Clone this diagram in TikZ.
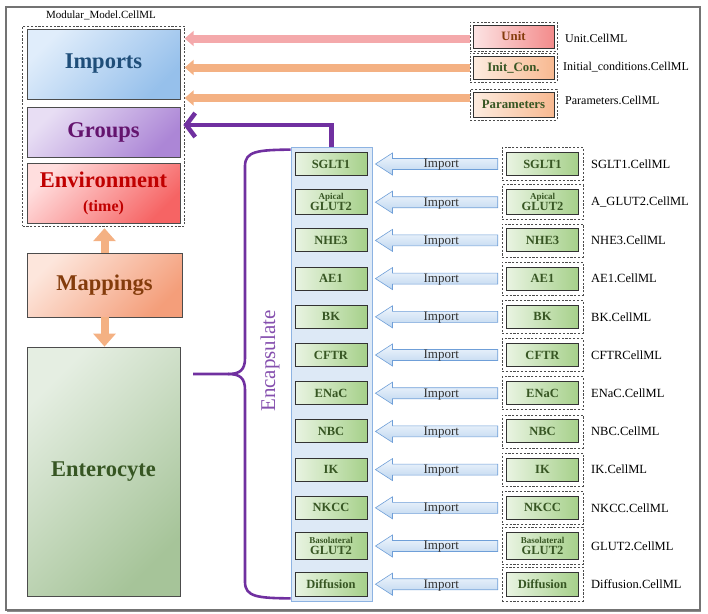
\documentclass[tikz,border=0pt]{standalone}
\usepackage{fontspec}
\setmainfont{Liberation Serif}
\usetikzlibrary{arrows.meta,calc,fit}
\definecolor{purp}{HTML}{7030A0}
\definecolor{tgreen}{HTML}{375623}
\definecolor{gL}{HTML}{E9F4E2}
\definecolor{gD}{HTML}{A6D08A}
\definecolor{impL}{HTML}{F2F7FD}
\definecolor{impD}{HTML}{BCD5EF}
\definecolor{impB}{HTML}{6F9FD8}
\definecolor{colF}{HTML}{DDE9F6}
\definecolor{colB}{HTML}{8DB3E2}
\definecolor{pinkA}{HTML}{F4A9AB}
\definecolor{oraA}{HTML}{F4B183}
\definecolor{brownT}{HTML}{843C0C}
\newcommand\ApicalG{{\fontsize{9}{9}\selectfont Apical}\\[-2pt]GLUT2}
\newcommand\BasoG{{\fontsize{9}{9}\selectfont Basolateral}\\[-2pt]GLUT2}
\begin{document}
\begin{tikzpicture}[x=1pt,y=-1pt,
 bigbox/.style={draw=black!70, line width=0.8pt, inner sep=0pt, font=\bfseries\fontsize{22.5}{26}\selectfont, align=center},
 cellbox/.style={draw=black!80, line width=0.9pt, left color=gL, right color=gD, minimum width=72pt, minimum height=23pt, inner sep=0pt, font=\bfseries\fontsize{12.5}{13}\selectfont, text=tgreen, align=center},
 dbox/.style={draw=black!70, dash pattern=on 2.2pt off 1.6pt, line width=0.6pt, inner sep=0pt},
 fname/.style={anchor=west, inner sep=0pt, font=\fontsize{12.5}{14}\selectfont},
 topbox/.style={draw=black!80, line width=0.9pt, minimum width=81pt, minimum height=23pt, inner sep=0pt, font=\bfseries\fontsize{12.8}{14}\selectfont},
 imparrow/.style={draw=impB, line width=0.6pt, top color=impL, bottom color=impD},
 fatarrow/.style={line width=8pt, -{Triangle[length=9pt,width=15pt]}},
]
\useasboundingbox (0,0) rectangle (708,613);
% outer frame
\draw[black!55, line width=1.2pt] (6,7) rectangle (700,610);
\draw[black!45, line width=1.2pt] (7,611.2) -- (701,611.2);

\node[inner sep=0pt, font=\fontsize{11}{12}\selectfont] (ttl) at (101,15) {Modular\_Model.CellML};

% left big boxes
\node[bigbox, minimum width=153pt, minimum height=70pt, top color={rgb,255:red,224;green,237;blue,251}, bottom color={rgb,255:red,150;green,192;blue,235}, shading angle=45, text={rgb,255:red,31;green,78;blue,121}] (imp) at (103.5,64) {Imports};

\node[bigbox, minimum width=153pt, minimum height=50pt, top color={rgb,255:red,232;green,222;blue,244}, bottom color={rgb,255:red,172;green,134;blue,214}, shading angle=45, text={rgb,255:red,100;green,20;blue,110}] (grp) at (103.5,132) {Groups};

\node[bigbox, minimum width=153pt, minimum height=60pt, top color={rgb,255:red,255;green,222;blue,222}, bottom color={rgb,255:red,246;green,100;blue,100}, shading angle=45, text={rgb,255:red,192;green,0;blue,0}] (env) at (103.5,193) {Environment\\[-2pt]{\fontsize{16}{18}\selectfont (time)}};

\node[dbox, fit=(imp)(env), inner xsep=4pt, inner ysep=2.5pt] (lD) {};

\node[bigbox, minimum width=155pt, minimum height=64pt, top color={rgb,255:red,253;green,230;blue,220}, bottom color={rgb,255:red,244;green,158;blue,122}, shading angle=45, text=brownT] (map) at (104.5,285) {Mappings};

\node[bigbox, minimum width=153pt, minimum height=249pt, top color={rgb,255:red,229;green,238;blue,226}, bottom color={rgb,255:red,166;green,196;blue,153}, shading angle=45, text=tgreen] (ent) at (103.5,471.5) {Enterocyte};

% orange double arrows
\coordinate (t1) at (map.north |- lD.south);
\draw[oraA, line width=8pt, -{Triangle[length=13pt,width=22pt]}] (map.north) -- ($(t1)+(0,2)$);
\draw[oraA, line width=8pt, -{Triangle[length=13pt,width=22pt]}] (map.south) -- (map.south |- ent.north);

% top right boxes
\node[topbox, left color={rgb,255:red,252;green,228;blue,228}, right color={rgb,255:red,243;green,139;blue,139}, text=brownT] (uB) at (513.5,36.5) {Unit};
\node[topbox, left color={rgb,255:red,253;green,236;blue,224}, right color={rgb,255:red,248;green,185;blue,145}, text=tgreen] (iB) at (513.5,67.5) {Init\_Con.};
\node[topbox, minimum height=25pt, left color={rgb,255:red,253;green,236;blue,224}, right color={rgb,255:red,248;green,185;blue,145}, text=tgreen] (pB) at (513.5,104.5) {Parameters};
\node[dbox, fit=(uB), inner xsep=2.5pt, inner ysep=2.5pt] (uD) {};
\node[dbox, fit=(iB), inner xsep=2.5pt, inner ysep=2.5pt] (iD) {};
\node[dbox, fit=(pB), inner xsep=2.5pt, inner ysep=2.5pt] (pD) {};
\node[fname, font=\fontsize{12}{14}\selectfont] (uF) at (565,38) {Unit.CellML};
\node[fname, font=\fontsize{12}{14}\selectfont] (iF) at (563,67) {Initial\_conditions.CellML};
\node[fname, font=\fontsize{12}{14}\selectfont] (pF) at (565,100) {Parameters.CellML};

\coordinate (a1) at ($(uD.west)+(0,2)$);
\coordinate (a2) at ($(iD.west)+(0,0)$);
\coordinate (a3) at ($(pD.west)+(0,-6.5)$);
\draw[fatarrow, pinkA] (a1) -- (a1 -| lD.east);
\draw[fatarrow, oraA] (a2) -- (a2 -| lD.east);
\draw[fatarrow, oraA] (a3) -- (a3 -| lD.east);

% column
\node[draw=colB, fill=colF, line width=0.8pt, minimum width=81pt, minimum height=454pt, inner sep=0pt] (col) at (331.5,374) {};

% purple arrow to Groups
\draw[purp, line width=4.5pt, -{Straight Barb[length=9pt,width=24pt]}] (col.north) |- ($(grp.east)+(3,-7)$);

% brace
\coordinate (bt) at (193,374);
\draw[purp, line width=2.6pt] ($(col.north west)+(0,3)$) .. controls (258,150) and (245,151) .. (245,166) -- (245,358) .. controls (245,370) and (240,374) .. (228,374) -- (bt);
\draw[purp, line width=2.6pt] (228,374) .. controls (240,374) and (245,378) .. (245,390) -- (245,582) .. controls (245,597) and (258,598) .. ($(col.south west)+(0,-3)$);
\node[rotate=90, inner sep=0pt, text=purp!85!white, font=\fontsize{21}{22}\selectfont] (enc) at (270,361) {Encapsulate};

% rows
\foreach \i/\lab/\h/\file in {0/SGLT1/23pt/SGLT1.CellML, 1/\ApicalG/25pt/A\_GLUT2.CellML, 2/NHE3/23pt/NHE3.CellML, 3/AE1/23pt/AE1.CellML, 4/BK/23pt/BK.CellML, 5/CFTR/23pt/CFTRCellML, 6/ENaC/23pt/ENaC.CellML, 7/NBC/23pt/NBC.CellML, 8/IK/23pt/IK.CellML, 9/NKCC/23pt/NKCC.CellML, 10/\BasoG/27pt/GLUT2.CellML, 11/Diffusion/24pt/Diffusion.CellML}{
  \pgfmathsetmacro\yy{164+38.2*\i}
  \node[cellbox, minimum height=\h] (c\i) at (331,\yy) {\lab};
  \node[cellbox, minimum height=\h] (r\i) at (542.5,\yy) {\lab};
  \node[dbox, fit=(r\i), inner xsep=4pt, inner ysep=4.5pt] (d\i) {};
  \node[fname] (f\i) at (591,\yy) {\file};
  \path[imparrow] let \p1=($(c\i.east)+(8,0)$), \p2=($(d\i.west)+(-4,0)$) in
    (\x1,\y1) -- (\x1+17pt,\y1+11pt) -- (\x1+17pt,\y1+5.5pt) -- (\x2,\y1+5.5pt) -- (\x2,\y1-5.5pt) -- (\x1+17pt,\y1-5.5pt) -- (\x1+17pt,\y1-11pt) -- cycle;
  \node[inner sep=0pt, font=\fontsize{13}{14}\selectfont, text=black!80] (m\i) at ($(c\i.east)!0.55!(d\i.west)+(0,1)$) {Import};
}
\end{tikzpicture}
\end{document}
